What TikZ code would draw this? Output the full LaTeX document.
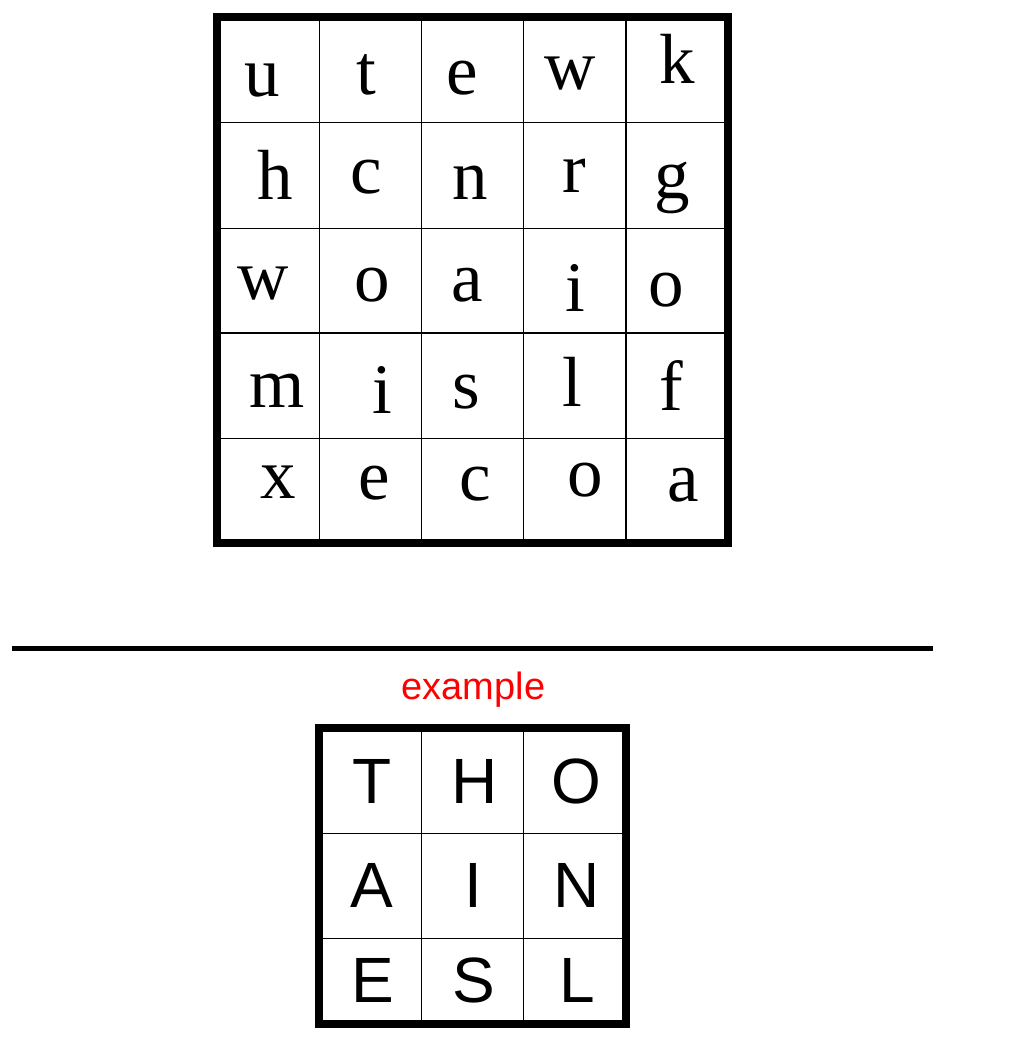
\documentclass[tikz,border=0pt]{standalone}
\usepackage{fontspec}
\setmainfont{Liberation Serif}
\newfontfamily\sansf{Liberation Sans}
\begin{document}
\begin{tikzpicture}[x=1pt,y=-1pt,
  serifl/.style={anchor=base,inner sep=0pt,font=\fontsize{71}{80}\selectfont},
  sansl/.style={anchor=base,inner sep=0pt,font=\sansf\fontsize{64}{72}\selectfont},
  gridline/.style={line width=1.3pt,black},
  gridborder/.style={line width=7.5pt,black},
  sepline/.style={line width=5pt,black}]
\useasboundingbox (0,0) rectangle (1025,1043);
% top grid
\foreach \xx in {319.3,421.3,523.3,626} \draw[gridline] (\xx,17) -- (\xx,543);
\foreach \yy in {122.7,228.3,333,438.3} \draw[gridline] (217,\yy) -- (728,\yy);
\draw[gridborder] (217,17) rectangle (728,543);
\foreach \l/\xx/\yy [count=\i] in {
  u/262.5/96.7, t/366.7/94.3, e/462.5/94.3, w/570/89.3, k/677.5/84,
  h/275/200, c/366/193.3, n/470/199.3, r/574.5/192.7, g/672.5/198.5,
  w/263/299.3, o/372/301, a/467.5/301.7, i/575.5/311.7, o/666/306,
  m/277/407.7, i/382.5/413.3, s/466/408.3, l/572/406, f/671/410.7,
  x/278/498.3, e/374/499.3, c/475/500.7, o/585/496, a/683.5/501.7}
  \node[serifl] (p\i) at (\xx,\yy) {\l};
% separator
\coordinate (sl) at (12,648);
\coordinate (sr) at (933,648);
\draw[sepline] (sl) -- (sr);
% example label
\node[anchor=base,inner sep=0pt,text={rgb,255:red,255;green,0;blue,0},font=\sansf\fontsize{38}{44}\selectfont] (ex) at (473.5,699) {example};
% bottom grid
\foreach \xx in {421.7,523.3} \draw[gridline] (\xx,728) -- (\xx,1024);
\foreach \yy in {833.3,938.3} \draw[gridline] (319,\yy) -- (626,\yy);
\draw[gridborder] (319,728) rectangle (626,1024);
\foreach \l/\xx/\yy [count=\i] in {
  T/371.7/803.3, H/474.7/803.3, O/576.7/803.3,
  A/371.5/907.7, I/473.7/907.7, N/576.7/907.7,
  E/372.5/1002.7, S/474.3/1002.7, L/577.5/1002.7}
  \node[sansl] (q\i) at (\xx,\yy) {\l};
\end{tikzpicture}
\end{document}
